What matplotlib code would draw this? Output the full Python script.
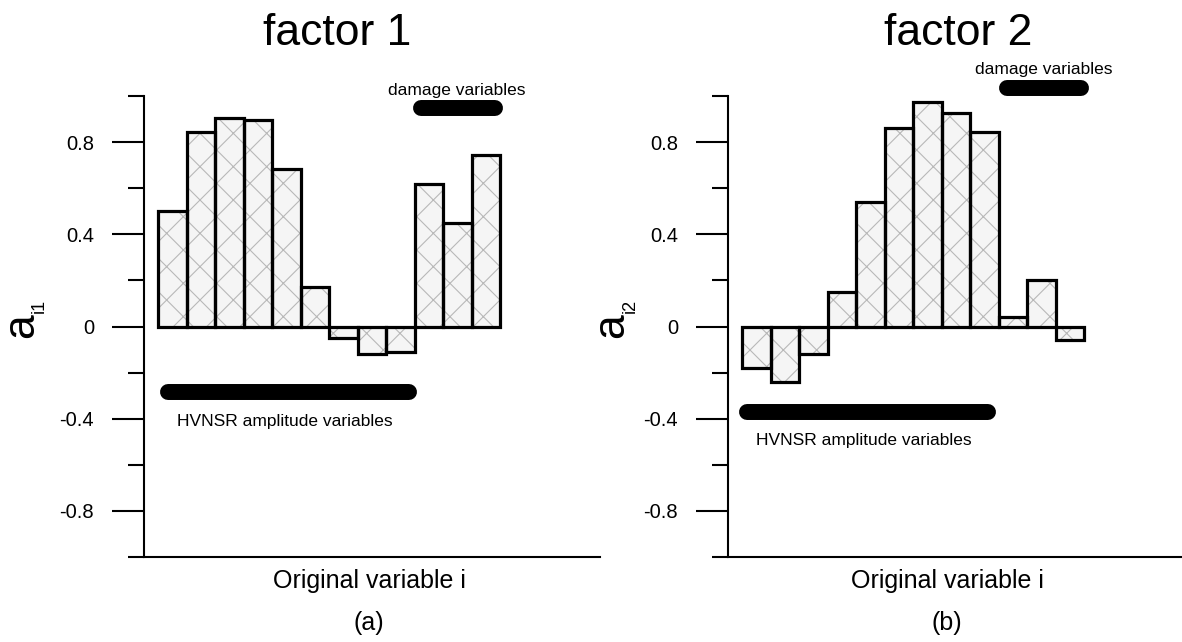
import numpy as np
import matplotlib
matplotlib.use('Agg')
import matplotlib.pyplot as plt

plt.rcParams['font.family'] = ['Liberation Sans', 'DejaVu Sans']
plt.rcParams['hatch.linewidth'] = 0.8

# loadings of each original variable on the two factors
variables = np.arange(1, 13)
factor1 = [0.50, 0.845, 0.905, 0.895, 0.685, 0.17, -0.05, -0.12, -0.11, 0.62, 0.45, 0.745]
factor2 = [-0.18, -0.24, -0.12, 0.15, 0.54, 0.86, 0.975, 0.925, 0.845, 0.04, 0.20, -0.06]

# which variables belong to each group
hvnsr_vars = [1, 2, 3, 4, 5, 6, 7, 8, 9]
damage_vars = [10, 11, 12]

titles = ['factor 1', 'factor 2']
panel_tags = ['(a)', '(b)']
subscripts = ['i1', 'i2']
ytick_vals = [-0.8, -0.4, 0, 0.4, 0.8]
ytick_labels = ['-0.8', '-0.4', '0', '0.4', '0.8']
yminor_vals = [-1.0, -0.6, -0.2, 0.2, 0.6, 1.0]

W, H = 1182, 642
fig = plt.figure(figsize=(W / 100, H / 100), dpi=100)


def px(x, y):
    # pixel position (from top-left) -> figure fraction
    return x / W, 1 - y / H


def draw_panel(left, loads, pill_y, text_pos, pill_inset):
    ax = fig.add_axes([left / W, (H - 557) / H, 456 / W, 461 / H])
    ax.bar(variables, loads, width=1, color='#f5f5f5', edgecolor='#b8b8b8',
           hatch='x', lw=0, zorder=2)
    ax.bar(variables, loads, width=1, fill=False, edgecolor='black', lw=2.3, zorder=3)

    # group markers
    (hy, dy) = pill_y
    (ha, hb), (da, db) = pill_inset
    ax.plot([hvnsr_vars[0] - 0.5 + ha, hvnsr_vars[-1] + 0.5 - hb], [hy, hy],
            color='black', lw=11.5, solid_capstyle='round', clip_on=False)
    ax.plot([damage_vars[0] - 0.5 + da, damage_vars[-1] + 0.5 - db], [dy, dy],
            color='black', lw=11.5, solid_capstyle='round', clip_on=False)
    (htx, hty), (dtx, dty) = text_pos
    ax.text(htx, hty, 'HVNSR amplitude variables', fontsize=12.5,
            ha='left', va='center', clip_on=False)
    ax.text(dtx, dty, 'damage variables', fontsize=12.5,
            ha='center', va='center', clip_on=False)

    ax.set_xlim(0, 16)
    ax.set_ylim(-1, 1)
    ax.set_xticks([])
    ax.set_yticks(ytick_vals)
    ax.set_yticklabels(ytick_labels, fontsize=14.5)
    ax.set_yticks(yminor_vals, minor=True)
    ax.tick_params(axis='y', which='major', direction='out', length=23,
                   width=1.5, pad=13)
    ax.tick_params(axis='y', which='minor', direction='out', length=11.5,
                   width=1.5)
    for s in ['top', 'right']:
        ax.spines[s].set_visible(False)
    for s in ['left', 'bottom']:
        ax.spines[s].set_linewidth(1.5)
    return ax


draw_panel(144, factor1, (-0.283, 0.95),
           ((1.16, -0.41), (10.98, 1.026)),
           ((0.34, 0.2), (0.22, 0.18)))
draw_panel(728, factor2, (-0.37, 1.035),
           ((0.97, -0.496), (11.07, 1.117)),
           ((0.15, 0.39), (0.28, 0.12)))

# titles, axis labels, panel tags
for cx, t in zip([337, 958], titles):
    fig.text(*px(cx, 45), t, fontsize=32, ha='center', va='baseline')
for cx, t in zip([369, 947], panel_tags):
    fig.text(*px(cx, 630), t, fontsize=18, ha='center', va='baseline')
for cx in [369, 947]:
    fig.text(*px(cx, 588), 'Original variable i', fontsize=18,
             ha='center', va='baseline')
for (ax_x, sx), sub in zip([(22, 39), (612, 630)], subscripts):
    fig.text(*px(ax_x, 326), 'a', fontsize=32, rotation=90,
             ha='center', va='center')
    fig.text(*px(sx, 306), sub, fontsize=13, rotation=90,
             ha='center', va='center')

fig.savefig('out.png', dpi=100)
